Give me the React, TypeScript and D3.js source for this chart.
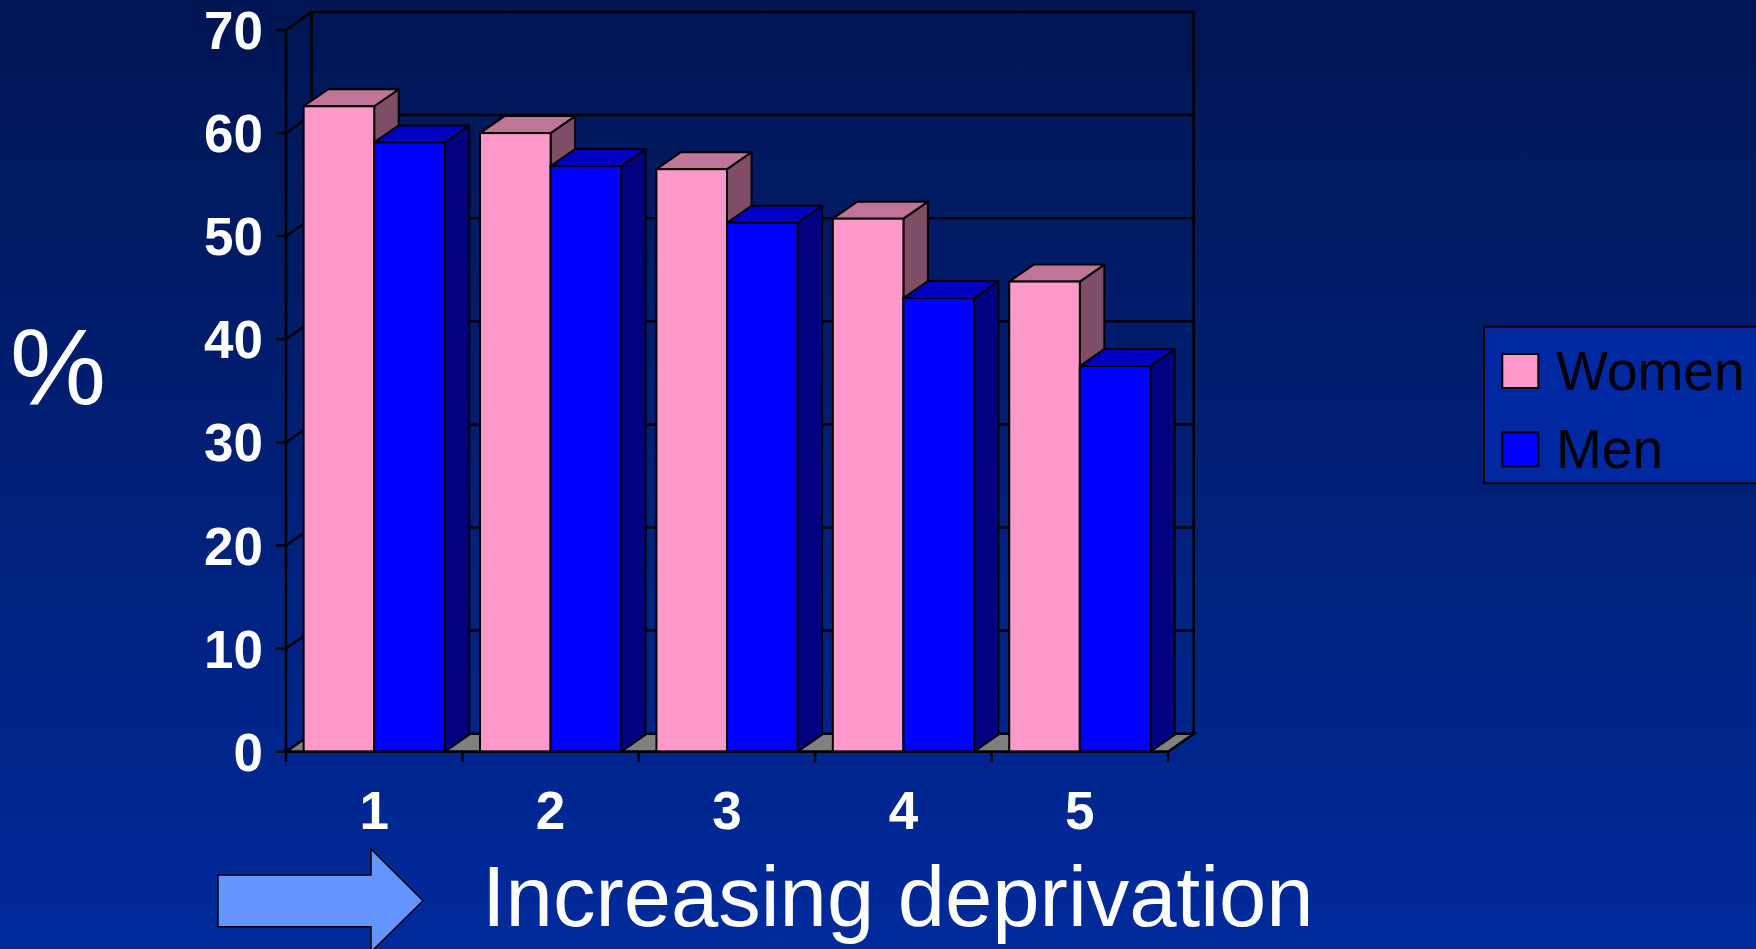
import { FC, useEffect, useRef } from 'react';
import * as d3 from 'd3';

const categories = ['1', '2', '3', '4', '5'];
const seriesNames = ['Women', 'Men'];
const women = [62.6, 60.0, 56.5, 51.7, 45.6];
const men = [59.1, 56.8, 51.3, 44.0, 37.4];
const yTicks = [0, 10, 20, 30, 40, 50, 60, 70];

const FONT = '"Liberation Sans", Arial, sans-serif';

// front / top / side shades for each series
const shades: Record<string, [string, string, string]> = {
  Women: ['#FF99CC', '#C07598', '#804D66'],
  Men: ['#0000FF', '#0000C0', '#000080'],
};

const App: FC = () => {
  const ref = useRef<SVGSVGElement | null>(null);

  useEffect(() => {
    const svg = d3.select(ref.current);
    svg.selectAll('*').remove();

    const W = 1756;
    const H = 949;

    const defs = svg.append('defs');
    const grad = defs
      .append('linearGradient')
      .attr('id', 'bg')
      .attr('x1', 0)
      .attr('y1', 0)
      .attr('x2', 0)
      .attr('y2', 1);
    grad.append('stop').attr('offset', '0%').attr('stop-color', '#001552');
    grad.append('stop').attr('offset', '100%').attr('stop-color', '#002A9C');

    svg.append('rect').attr('width', W).attr('height', H).attr('fill', 'url(#bg)');

    const y = d3.scaleLinear().domain([0, 70]).range([751.7, 30]);
    const x = d3.scaleBand().domain(categories).range([286, 1168]);
    const xs = d3
      .scaleBand()
      .domain(seriesNames)
      .range([0, x.bandwidth()])
      .paddingOuter(0.25);

    const dx = 25.7;
    const dy = 18;
    const bdx = 24.5;
    const bdy = 17;
    const x0 = 286;
    const x1 = 1168;
    const g = svg.append('g');

    // back wall outline
    g.append('path')
      .attr(
        'd',
        `M${x0 + dx},${y(0) - dy} L${x0 + dx},${y(70) - dy} L${x1 + dx},${y(70) - dy} L${x1 + dx},${y(0) - dy}`
      )
      .attr('fill', 'none')
      .attr('stroke', '#000')
      .attr('stroke-width', 2.5);

    // grid lines on back and side walls
    yTicks
      .filter(t => t > 0 && t < 70)
      .forEach(t => {
        g.append('path')
          .attr('d', `M${x0},${y(t)} L${x0 + dx},${y(t) - dy} L${x1 + dx},${y(t) - dy}`)
          .attr('fill', 'none')
          .attr('stroke', '#000')
          .attr('stroke-width', 2.5);
      });
    g.append('line')
      .attr('x1', x0)
      .attr('y1', y(70))
      .attr('x2', x0 + dx)
      .attr('y2', y(70) - dy)
      .attr('stroke', '#000')
      .attr('stroke-width', 2.5);

    // floor
    g.append('path')
      .attr(
        'd',
        `M${x0},${y(0)} L${x0 + dx},${y(0) - dy} L${x1 + dx},${y(0) - dy} L${x1},${y(0)} Z`
      )
      .attr('fill', '#808080')
      .attr('stroke', '#000')
      .attr('stroke-width', 2.5);

    // bars
    categories.forEach((c, i) => {
      const vals = [women[i], men[i]];
      seriesNames.forEach((s, j) => {
        const bx = (x(c) as number) + (xs(s) as number);
        const w = xs.bandwidth();
        const top = y(vals[j]);
        const bot = y(0);
        const [front, topC, side] = shades[s];
        g.append('path')
          .attr('d', `M${bx + w},${top} L${bx + w + bdx},${top - bdy} L${bx + w + bdx},${bot - bdy} L${bx + w},${bot} Z`)
          .attr('fill', side)
          .attr('stroke', '#000')
          .attr('stroke-width', 2)
          .attr('stroke-linejoin', 'round');
        g.append('path')
          .attr('d', `M${bx},${top} L${bx + bdx},${top - bdy} L${bx + w + bdx},${top - bdy} L${bx + w},${top} Z`)
          .attr('fill', topC)
          .attr('stroke', '#000')
          .attr('stroke-width', 2)
          .attr('stroke-linejoin', 'round');
        g.append('rect')
          .attr('x', bx)
          .attr('y', top)
          .attr('width', w)
          .attr('height', bot - top)
          .attr('fill', front)
          .attr('stroke', '#000')
          .attr('stroke-width', 2);
      });
    });

    // y axis
    g.append('line')
      .attr('x1', x0)
      .attr('x2', x0)
      .attr('y1', y(0))
      .attr('y2', y(70))
      .attr('stroke', '#000')
      .attr('stroke-width', 2.5);
    yTicks.forEach(t => {
      g.append('line')
        .attr('x1', x0 - 10)
        .attr('x2', x0)
        .attr('y1', y(t))
        .attr('y2', y(t))
        .attr('stroke', '#000')
        .attr('stroke-width', 2.5);
      g.append('text')
        .attr('x', 263)
        .attr('y', y(t))
        .attr('dy', '0.36em')
        .attr('text-anchor', 'end')
        .attr('font-family', FONT)
        .attr('font-weight', 'bold')
        .attr('font-size', 53)
        .attr('fill', '#fff')
        .text(t);
    });

    // x axis
    g.append('line')
      .attr('x1', x0)
      .attr('x2', x1)
      .attr('y1', y(0))
      .attr('y2', y(0))
      .attr('stroke', '#000')
      .attr('stroke-width', 2.5);
    [...categories.map(c => x(c) as number), x1].forEach(tx => {
      g.append('line')
        .attr('x1', tx)
        .attr('x2', tx)
        .attr('y1', y(0))
        .attr('y2', y(0) + 10)
        .attr('stroke', '#000')
        .attr('stroke-width', 2.5);
    });
    categories.forEach(c => {
      g.append('text')
        .attr('x', (x(c) as number) + x.bandwidth() / 2)
        .attr('y', 829)
        .attr('text-anchor', 'middle')
        .attr('font-family', FONT)
        .attr('font-weight', 'bold')
        .attr('font-size', 53)
        .attr('fill', '#fff')
        .text(c);
    });

    // % label
    svg.append('text')
      .attr('x', 10)
      .attr('y', 404)
      .attr('font-family', FONT)
      .attr('font-size', 108)
      .attr('fill', '#fff')
      .text('%');

    // arrow + caption
    svg.append('path')
      .attr('d', 'M218,875 L371,875 L371,849 L423,900.7 L371,952 L371,926.7 L218,926.7 Z')
      .attr('fill', '#6495FF')
      .attr('stroke', '#000')
      .attr('stroke-width', 1.5);
    svg.append('text')
      .attr('x', 482)
      .attr('y', 926)
      .attr('font-family', FONT)
      .attr('font-size', 85)
      .attr('fill', '#fff')
      .text('Increasing deprivation');

    // legend
    const lg = svg.append('g');
    lg.append('rect')
      .attr('x', 1484)
      .attr('y', 326.7)
      .attr('width', 300)
      .attr('height', 156.6)
      .attr('fill', '#0028A0')
      .attr('stroke', '#000')
      .attr('stroke-width', 2);
    seriesNames.forEach((s, i) => {
      const top = i === 0 ? 354 : 432.3;
      lg.append('rect')
        .attr('x', 1502.3)
        .attr('y', top)
        .attr('width', 36)
        .attr('height', 34)
        .attr('fill', shades[s][0])
        .attr('stroke', '#000')
        .attr('stroke-width', 2);
      lg.append('text')
        .attr('x', 1556)
        .attr('y', top + 36)
        .attr('font-family', FONT)
        .attr('font-size', 55)
        .attr('fill', '#000')
        .text(s);
    });
  }, []);

  return (
    <svg
      ref={ref}
      width={1756}
      height={949}
      style={{ position: 'absolute', left: 0, top: 0, display: 'block' }}
    />
  );
};

export default App;
